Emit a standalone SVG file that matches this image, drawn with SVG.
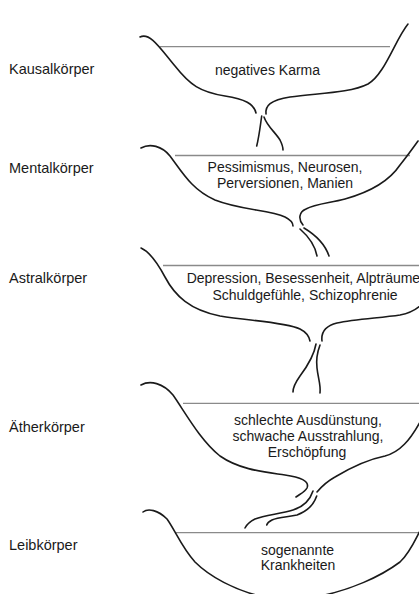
<svg xmlns="http://www.w3.org/2000/svg" width="419" height="594" viewBox="0 0 419 594">
<style>
.bg{fill:#ffffff}
.curve{fill:none;stroke:#1a1a1a;stroke-width:1.6;stroke-linecap:round}
.rim{fill:none;stroke:#8a8a8a;stroke-width:1.3}
.lbl{font-family:"Liberation Sans",Arial,sans-serif;font-size:14.5px;fill:#1a1a1a}
.txt{font-family:"Liberation Sans",Arial,sans-serif;font-size:14px;fill:#1a1a1a;text-anchor:middle}
</style>
<rect class="bg" x="0" y="0" width="419" height="594"/>

<g id="kausal">
<text class="lbl" x="9" y="74">Kausalkörper</text>
<line class="rim" x1="160" y1="46.7" x2="390" y2="46.7"/>
<path class="curve" d="M140,37 C150,32 160,48 175,66 C190,85 200,92 225,96 C245,99 254,104 256,113"/>
<path class="curve" d="M266,114 C265,106 270,100 290,97 C320,93 350,93 368,84 C385,74 395,40 408,24"/>
<text class="txt" x="267.5" y="75">negatives Karma</text>
</g>

<g id="mental">
<text class="lbl" x="9" y="173">Mentalkörper</text>
<line class="rim" x1="175" y1="155.5" x2="410" y2="155.5"/>
<path class="curve" d="M141,148 C150,143 162,146 170,156 C182,172 192,190 215,200 C240,210 270,210 285,217 C291,220 293,224 293,226"/>
<path class="curve" d="M303,225 C298,219 299,212 306,209 C315,204 330,203 345,199 C370,192 390,180 400,165 C408,155 413,148 418,141"/>
<text class="txt" x="285" y="171.7">Pessimismus, Neurosen,</text>
<text class="txt" x="285" y="187.7">Perversionen, Manien</text>
</g>

<g id="astral">
<text class="lbl" x="9" y="283">Astralkörper</text>
<line class="rim" x1="163" y1="265.5" x2="419" y2="265.5"/>
<path class="curve" d="M141,248 C150,252 157,262 165,277 C175,296 190,310 220,316 C250,321 285,322 300,329 C306,332 309,336 310,341"/>
<path class="curve" d="M322,341 C321,333 325,326 337,323 C355,319 380,318 400,315 C410,313 416,310 422,304"/>
<text class="txt" x="186.7" y="283.3" style="text-anchor:start">Depression, Besessenheit, Alpträume</text>
<text class="txt" x="305" y="300">Schuldgefühle, Schizophrenie</text>
</g>

<g id="aether">
<text class="lbl" x="9" y="432">Ätherkörper</text>
<line class="rim" x1="183" y1="403.3" x2="419" y2="403.3"/>
<path class="curve" d="M141,385 C150,380 163,383 173,395 C185,412 200,440 220,456 C240,470 265,472 285,475 C300,477 310,481 307,488 C305,492 300,494 296,497"/>
<path class="curve" d="M317,492 C322,486 326,482 335,477 C350,468 365,460 385,456 C400,452 410,440 420,422"/>
<text class="txt" x="308" y="425">schlechte Ausdünstung,</text>
<text class="txt" x="308" y="441">schwache Ausstrahlung,</text>
<text class="txt" x="307" y="456.7">Erschöpfung</text>
</g>

<g id="leib">
<text class="lbl" x="9" y="550">Leibkörper</text>
<line class="rim" x1="175" y1="532.7" x2="419" y2="532.7"/>
<path class="curve" d="M143,512 C148,508 158,510 167,519 C175,530 182,548 195,562 C210,577 235,590 260,596"/>
<path class="curve" d="M320,596 C350,590 380,577 400,562 C410,553 415,540 422,527"/>
<text class="txt" x="297.5" y="555">sogenannte</text>
<text class="txt" x="298" y="569.5">Krankheiten</text>
</g>

<g id="connectors">
<path class="curve" d="M261.7,116 C260,128 259,137 256.7,146"/>
<path class="curve" d="M264,117 C267,126 275,132 280,140 C282,144 283,148 283,150"/>
<path class="curve" d="M300,229 C308,236 315,245 317,256"/>
<path class="curve" d="M304,228 C314,234 325,244 329,256"/>
<path class="curve" d="M316,344 C314,356 306,368 300,376 C295,383 293,388 293,392"/>
<path class="curve" d="M320,345 C317,353 316,360 317,368 C318,378 321,385 320,393"/>
<path class="curve" d="M313,491 C310,500 303,507 293,510 C280,514 265,515 255,519 C249,522 246,526 245,528"/>
<path class="curve" d="M316.7,496 C314,504 308,511 297,515 C288,517 278,517 272,520 C268,522 267,524 266.7,525"/>
</g>
</svg>
